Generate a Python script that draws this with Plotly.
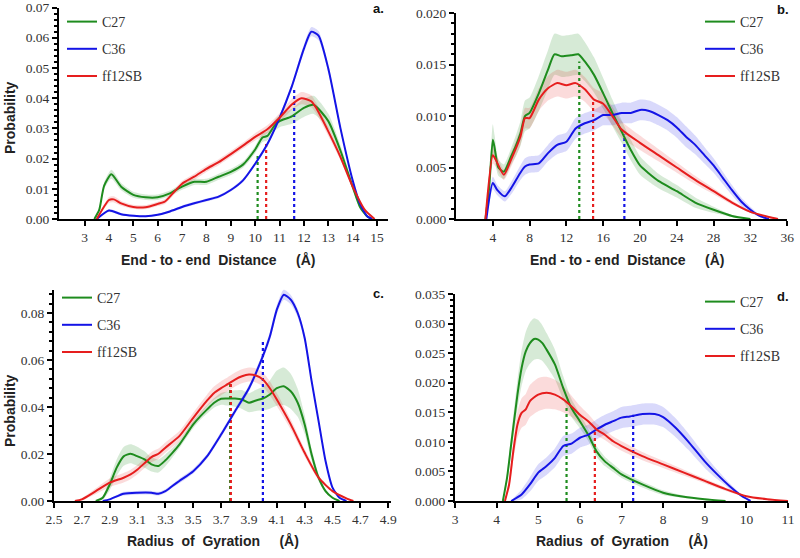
import plotly.graph_objects as go

# ---------------- DATA ----------------
# Panel a: end-to-end distance (short)
A_C27_x = [3.4, 3.6, 3.8, 4.1, 4.5, 5.0, 5.5, 6.0, 6.5, 7.0, 7.5, 8.0, 8.5, 9.0, 9.5, 10.0, 10.3, 10.5, 10.8, 11.0, 11.5, 12.0, 12.4, 13.0, 13.5, 14.0, 14.3, 14.6, 14.8]
A_C27_y = [0, 0.003, 0.011, 0.0148, 0.0107, 0.008, 0.0072, 0.0072, 0.0085, 0.0107, 0.0123, 0.0123, 0.014, 0.0156, 0.018, 0.023, 0.027, 0.0275, 0.031, 0.0324, 0.034, 0.0368, 0.0378, 0.0324, 0.0226, 0.0107, 0.004, 0.0008, 0]
A_C27_e = [0, 0.0005, 0.0012, 0.0015, 0.0012, 0.001, 0.0009, 0.0009, 0.0009, 0.001, 0.001, 0.001, 0.001, 0.001, 0.001, 0.0012, 0.0015, 0.0015, 0.0018, 0.002, 0.0025, 0.003, 0.003, 0.0025, 0.0018, 0.001, 0.0005, 0.0002, 0]
A_C36_x = [3.5, 4.0, 4.5, 5.0, 5.5, 6.0, 6.5, 7.0, 7.5, 8.0, 8.5, 9.0, 9.5, 10.0, 10.5, 11.0, 11.5, 12.0, 12.3, 12.6, 13.0, 13.5, 14.0, 14.3, 14.6, 14.8]
A_C36_y = [0, 0.0028, 0.0016, 0.0011, 0.0009, 0.0014, 0.0025, 0.004, 0.0052, 0.0063, 0.0074, 0.0096, 0.0128, 0.0183, 0.0248, 0.0335, 0.0438, 0.0564, 0.062, 0.0607, 0.0498, 0.030, 0.0128, 0.005, 0.0009, 0]
A_C36_e = [0, 0.0005, 0.0004, 0.0003, 0.0003, 0.0003, 0.0004, 0.0005, 0.0005, 0.0005, 0.0005, 0.0005, 0.0006, 0.0006, 0.0007, 0.0008, 0.001, 0.0013, 0.0015, 0.0015, 0.0012, 0.0009, 0.0006, 0.0004, 0.0002, 0]
A_FF_x = [3.5, 4.0, 4.2, 4.5, 5.0, 5.5, 6.0, 6.3, 6.5, 7.0, 7.5, 8.0, 8.5, 9.0, 9.5, 10.0, 10.5, 11.0, 11.5, 11.9, 12.3, 12.5, 13.0, 13.5, 14.0, 14.5, 14.9]
A_FF_y = [0, 0.0063, 0.0065, 0.0052, 0.004, 0.0039, 0.005, 0.0058, 0.0074, 0.0117, 0.014, 0.0166, 0.0188, 0.0215, 0.0243, 0.0272, 0.0297, 0.0335, 0.0379, 0.040, 0.039, 0.0368, 0.029, 0.0205, 0.0107, 0.003, 0]
A_FF_e = [0, 0.001, 0.001, 0.0008, 0.0007, 0.0007, 0.0007, 0.0008, 0.0008, 0.0009, 0.001, 0.001, 0.001, 0.001, 0.001, 0.0012, 0.0013, 0.0015, 0.0018, 0.002, 0.002, 0.0018, 0.0015, 0.001, 0.0007, 0.0003, 0]
# mean markers, order C27, C36, ff12SB
A_mean_x = [10.1, 11.6, 10.45]
A_mean_h = [0.0215, 0.0435, 0.025]

# Panel b: end-to-end distance (long)
B_C27_x = [3.2, 3.6, 4.0, 4.2, 4.6, 5.2, 6.0, 6.5, 7.0, 7.5, 8.0, 9.0, 10.0, 10.7, 11.5, 12.5, 13.3, 14.0, 15.0, 16.0, 17.0, 18.0, 19.0, 20.0, 21.0, 22.0, 24.0, 26.0, 28.0, 30.0, 32.0]
B_C27_y = [0, 0.003, 0.0077, 0.0069, 0.005, 0.0046, 0.0061, 0.0071, 0.0083, 0.010, 0.0103, 0.0122, 0.0145, 0.016, 0.0158, 0.0159, 0.016, 0.0153, 0.014, 0.0122, 0.0103, 0.0085, 0.0067, 0.0052, 0.0044, 0.0037, 0.0027, 0.0016, 0.0009, 0.0003, 0]
B_C27_e = [0, 0.0008, 0.0015, 0.0012, 0.0008, 0.0007, 0.0008, 0.001, 0.0012, 0.0015, 0.0015, 0.0017, 0.0019, 0.002, 0.002, 0.002, 0.002, 0.0019, 0.0017, 0.0015, 0.0013, 0.0011, 0.001, 0.0009, 0.0008, 0.0007, 0.0006, 0.0005, 0.0003, 0.0001, 0]
B_C36_x = [3.3, 4.0, 4.5, 5.3, 6.0, 7.0, 7.5, 8.0, 9.0, 10.0, 11.0, 12.0, 13.0, 14.0, 15.0, 16.0, 17.0, 18.0, 19.0, 20.0, 21.0, 22.0, 23.0, 24.0, 25.0, 26.0, 27.0, 28.0, 29.0, 30.0, 31.0, 32.0, 33.0, 34.0]
B_C36_y = [0, 0.0035, 0.0028, 0.0022, 0.003, 0.0045, 0.0051, 0.0053, 0.0054, 0.0064, 0.0072, 0.0075, 0.0088, 0.0093, 0.0096, 0.0101, 0.0101, 0.0103, 0.0103, 0.0106, 0.0105, 0.0101, 0.0096, 0.0089, 0.0080, 0.0072, 0.0062, 0.0052, 0.0040, 0.0028, 0.0017, 0.0009, 0.0003, 0]
B_C36_e = [0, 0.0006, 0.0005, 0.0005, 0.0006, 0.0007, 0.0008, 0.0008, 0.0008, 0.0008, 0.0009, 0.0009, 0.001, 0.001, 0.001, 0.001, 0.001, 0.001, 0.001, 0.001, 0.001, 0.001, 0.001, 0.001, 0.001, 0.0009, 0.0008, 0.0007, 0.0006, 0.0005, 0.0004, 0.0003, 0.0001, 0]
B_FF_x = [3.2, 4.0, 4.3, 5.2, 6.0, 7.0, 7.5, 8.0, 9.0, 10.0, 11.0, 12.0, 13.0, 14.0, 15.0, 16.0, 17.0, 18.0, 20.0, 22.0, 24.0, 26.0, 28.0, 30.0, 32.0, 34.0, 35.0]
B_FF_y = [0, 0.0062, 0.0058, 0.0043, 0.0058, 0.008, 0.0098, 0.0098, 0.0116, 0.0127, 0.0132, 0.013, 0.0132, 0.0126, 0.0116, 0.0112, 0.010, 0.0087, 0.0074, 0.0062, 0.0050, 0.0038, 0.0027, 0.0016, 0.0007, 0.0002, 0]
B_FF_e = [0, 0.0008, 0.0007, 0.0005, 0.0007, 0.0008, 0.001, 0.001, 0.0011, 0.0012, 0.0013, 0.0013, 0.0013, 0.0012, 0.0011, 0.001, 0.0009, 0.0008, 0.0007, 0.0006, 0.0005, 0.0004, 0.0003, 0.0002, 0.0001, 0, 0]
B_mean_x = [13.4, 18.3, 14.9]
B_mean_h = [0.0153, 0.0082, 0.0116]

# Panel c: radius of gyration (short)
C_C27_x = [2.8, 2.85, 2.9, 2.95, 3.0, 3.05, 3.1, 3.15, 3.2, 3.25, 3.3, 3.35, 3.4, 3.45, 3.5, 3.55, 3.6, 3.65, 3.7, 3.75, 3.8, 3.85, 3.9, 3.95, 4.0, 4.05, 4.1, 4.15, 4.2, 4.25, 4.3, 4.35, 4.4, 4.45, 4.5, 4.55]
C_C27_y = [0, 0.0014, 0.007, 0.0142, 0.019, 0.0201, 0.019, 0.0177, 0.0156, 0.0149, 0.0173, 0.0205, 0.024, 0.0283, 0.0326, 0.036, 0.039, 0.0418, 0.0435, 0.0436, 0.0436, 0.0432, 0.0418, 0.0428, 0.0436, 0.0453, 0.048, 0.0488, 0.0467, 0.0418, 0.0326, 0.0198, 0.0099, 0.0042, 0.0014, 0]
C_C27_e = [0, 0.0008, 0.0025, 0.0035, 0.004, 0.004, 0.004, 0.0035, 0.003, 0.0028, 0.0025, 0.002, 0.0015, 0.0015, 0.0015, 0.0015, 0.0018, 0.002, 0.0025, 0.003, 0.0035, 0.004, 0.004, 0.0045, 0.005, 0.006, 0.0075, 0.008, 0.0075, 0.006, 0.004, 0.0025, 0.0015, 0.0008, 0.0003, 0]
C_C36_x = [2.85, 2.9, 3.0, 3.1, 3.2, 3.25, 3.3, 3.35, 3.4, 3.5, 3.6, 3.7, 3.8, 3.9, 4.0, 4.05, 4.1, 4.15, 4.2, 4.25, 4.3, 4.35, 4.4, 4.45, 4.5, 4.55, 4.6]
C_C36_y = [0, 0.0007, 0.0031, 0.0035, 0.0035, 0.0031, 0.0042, 0.0064, 0.0085, 0.0127, 0.0191, 0.0283, 0.0382, 0.048, 0.0616, 0.070, 0.0814, 0.0878, 0.0857, 0.080, 0.0694, 0.051, 0.034, 0.017, 0.0057, 0.0014, 0]
C_C36_e = [0, 0.0003, 0.0008, 0.0008, 0.0008, 0.0008, 0.0008, 0.0008, 0.001, 0.001, 0.001, 0.0012, 0.0012, 0.0014, 0.0016, 0.0018, 0.002, 0.0022, 0.002, 0.0018, 0.0016, 0.0012, 0.001, 0.0008, 0.0005, 0.0002, 0]
C_FF_x = [2.65, 2.7, 2.8, 2.9, 3.0, 3.05, 3.1, 3.2, 3.25, 3.3, 3.4, 3.5, 3.6, 3.65, 3.7, 3.75, 3.8, 3.85, 3.9, 3.95, 4.0, 4.05, 4.1, 4.2, 4.3, 4.4, 4.5, 4.6, 4.65]
C_FF_y = [0, 0.0007, 0.0042, 0.0078, 0.0099, 0.0113, 0.0134, 0.0187, 0.0201, 0.0227, 0.0276, 0.0354, 0.0428, 0.046, 0.048, 0.0498, 0.0517, 0.0531, 0.0538, 0.0534, 0.0517, 0.048, 0.0432, 0.0326, 0.0205, 0.0099, 0.0042, 0.0011, 0]
C_FF_e = [0, 0.0005, 0.0012, 0.0018, 0.002, 0.002, 0.002, 0.0022, 0.0022, 0.0022, 0.0022, 0.0022, 0.0025, 0.0028, 0.003, 0.003, 0.003, 0.003, 0.003, 0.003, 0.003, 0.003, 0.0028, 0.0022, 0.0016, 0.001, 0.0005, 0.0002, 0]
C_mean_x = [3.765, 4.0, 3.77]
C_mean_h = [0.0498, 0.068, 0.0498]

# Panel d: radius of gyration (long)
D_C27_x = [4.15, 4.25, 4.35, 4.5, 4.6, 4.7, 4.8, 4.9, 5.0, 5.1, 5.2, 5.4, 5.6, 5.8, 6.0, 6.2, 6.4, 6.6, 6.8, 7.0, 7.5, 8.0, 8.5, 9.0, 9.5]
D_C27_y = [0, 0.0039, 0.0096, 0.018, 0.0225, 0.0253, 0.0267, 0.0274, 0.0273, 0.0267, 0.0256, 0.0231, 0.0191, 0.0157, 0.0135, 0.0112, 0.0084, 0.0067, 0.0056, 0.0045, 0.0028, 0.0014, 0.0007, 0.0003, 0]
D_C27_e = [0, 0.0008, 0.0015, 0.0025, 0.003, 0.0033, 0.0035, 0.0035, 0.0033, 0.003, 0.0028, 0.0025, 0.002, 0.0015, 0.0012, 0.001, 0.0009, 0.0008, 0.0007, 0.0006, 0.0005, 0.0004, 0.0002, 0.0001, 0]
D_C36_x = [4.35, 4.6, 4.8, 5.0, 5.2, 5.4, 5.6, 5.8, 6.0, 6.2, 6.4, 6.6, 6.8, 7.0, 7.2, 7.5, 7.8, 8.0, 8.3, 8.6, 9.0, 9.3, 9.6, 9.9, 10.1]
D_C36_y = [0, 0.0011, 0.0028, 0.0048, 0.0059, 0.0073, 0.0093, 0.0097, 0.0107, 0.0112, 0.0121, 0.0129, 0.0135, 0.0141, 0.0143, 0.0147, 0.0147, 0.0142, 0.0124, 0.0101, 0.0067, 0.0045, 0.0025, 0.0008, 0]
D_C36_e = [0, 0.0008, 0.0012, 0.0014, 0.0015, 0.0016, 0.0017, 0.0017, 0.0017, 0.0017, 0.0017, 0.0017, 0.0017, 0.0018, 0.0018, 0.0018, 0.0018, 0.0017, 0.0016, 0.0014, 0.0011, 0.0008, 0.0005, 0.0002, 0]
D_FF_x = [4.2, 4.3, 4.4, 4.5, 4.6, 4.7, 4.8, 5.0, 5.2, 5.4, 5.6, 5.8, 6.0, 6.2, 6.4, 6.6, 6.8, 7.0, 7.5, 8.0, 8.5, 9.0, 9.5, 10.0, 10.5, 11.0]
D_FF_y = [0, 0.0028, 0.0084, 0.0129, 0.0149, 0.0155, 0.0169, 0.018, 0.0183, 0.018, 0.0172, 0.016, 0.0146, 0.0135, 0.0121, 0.0112, 0.0101, 0.0093, 0.0076, 0.0062, 0.0048, 0.0034, 0.002, 0.0008, 0.0003, 0]
D_FF_e = [0, 0.0008, 0.0015, 0.0022, 0.0025, 0.0026, 0.0027, 0.0028, 0.0027, 0.0025, 0.0022, 0.0018, 0.0015, 0.0012, 0.001, 0.0009, 0.0008, 0.0008, 0.0007, 0.0006, 0.0005, 0.0004, 0.0003, 0.0001, 0, 0]
D_mean_x = [5.68, 7.28, 6.36]
D_mean_h = [0.016, 0.0146, 0.0118]

SERIES = ["C27", "C36", "ff12SB"]
COLORS = ["#1e8c1e", "#1414e6", "#e61e1e"]
BANDS = ["rgba(30,140,30,0.18)", "rgba(20,20,230,0.16)", "rgba(230,30,30,0.16)"]

X_TITLES = ["End - to - end\u00a0 Distance\u00a0\u00a0\u00a0\u00a0 (Å)", "End - to - end\u00a0 Distance\u00a0\u00a0\u00a0\u00a0 (Å)",
            "Radius\u00a0 of\u00a0 Gyration\u00a0\u00a0\u00a0\u00a0 (Å)", "Radius\u00a0 of\u00a0 Gyration\u00a0\u00a0\u00a0\u00a0 (Å)"]
PANEL_LABELS = ["a.", "b.", "c.", "d."]

# ---------------- FIGURE ----------------
panels = [
    dict(data=[(A_C27_x, A_C27_y, A_C27_e), (A_C36_x, A_C36_y, A_C36_e), (A_FF_x, A_FF_y, A_FF_e)],
         mx=A_mean_x, mh=A_mean_h),
    dict(data=[(B_C27_x, B_C27_y, B_C27_e), (B_C36_x, B_C36_y, B_C36_e), (B_FF_x, B_FF_y, B_FF_e)],
         mx=B_mean_x, mh=B_mean_h),
    dict(data=[(C_C27_x, C_C27_y, C_C27_e), (C_C36_x, C_C36_y, C_C36_e), (C_FF_x, C_FF_y, C_FF_e)],
         mx=C_mean_x, mh=C_mean_h),
    dict(data=[(D_C27_x, D_C27_y, D_C27_e), (D_C36_x, D_C36_y, D_C36_e), (D_FF_x, D_FF_y, D_FF_e)],
         mx=D_mean_x, mh=D_mean_h),
]

fig = go.Figure()
legends = ["legend", "legend2", "legend3", "legend4"]

for p, panel in enumerate(panels):
    xa = "x" if p == 0 else f"x{p+1}"
    ya = "y" if p == 0 else f"y{p+1}"
    for s, (x, y, e) in enumerate(panel["data"]):
        up = [yy + ee for yy, ee in zip(y, e)]
        lo = [max(0.0, yy - ee) for yy, ee in zip(y, e)]
        fig.add_trace(go.Scatter(x=list(x) + list(x)[::-1], y=up + lo[::-1], fill="toself",
                                 fillcolor=BANDS[s], line=dict(width=0, shape="spline", smoothing=0.6),
                                 mode="lines", showlegend=False, hoverinfo="skip", xaxis=xa, yaxis=ya))
    for s in range(3):
        fig.add_trace(go.Scatter(x=[panel["mx"][s]] * 2, y=[0, panel["mh"][s]], mode="lines",
                                 line=dict(color=COLORS[s], width=2.2, dash="dot"),
                                 showlegend=False, hoverinfo="skip", xaxis=xa, yaxis=ya))
    for s, (x, y, e) in enumerate(panel["data"]):
        fig.add_trace(go.Scatter(x=x, y=y, mode="lines", name=SERIES[s],
                                 line=dict(color=COLORS[s], width=2, shape="spline", smoothing=0.6),
                                 legend=legends[p], legendgroup=f"{p}-{s}",
                                 xaxis=xa, yaxis=ya))

TICKFONT = dict(family="Liberation Serif", size=13.5, color="#333")
axis_common = dict(showline=True, linecolor="black", linewidth=2, ticks="outside", ticklen=5,
                   tickwidth=2, tickcolor="black", showgrid=False, zeroline=False, tickfont=TICKFONT,
                   automargin=False, ticklabeloverflow="allow")
minor_y = dict(ticks="outside", ticklen=3, tickcolor="black", tickwidth=1.5)

fig.update_layout(
    width=800, height=558, margin=dict(l=0, r=0, t=0, b=0, autoexpand=False),
    paper_bgcolor="white", plot_bgcolor="white",
    xaxis=dict(domain=[0.07375, 0.485], range=[1.95, 15.45], tickvals=list(range(3, 16)), anchor="y", **axis_common),
    yaxis=dict(domain=[0.6075, 1 - 7.5 / 558], range=[0, 0.07001], tickvals=[0, 0.01, 0.02, 0.03, 0.04, 0.05, 0.06, 0.07],
               tickformat=".2f", anchor="x", minor=dict(dtick=0.002, **minor_y), **axis_common),
    xaxis2=dict(domain=[0.570, 0.984], range=[0, 36], tickvals=list(range(4, 37, 4)), anchor="y2", **axis_common),
    yaxis2=dict(domain=[0.6075, 0.9767], range=[0, 0.02001], tickvals=[0, 0.005, 0.01, 0.015, 0.02],
                tickformat=".3f", anchor="x2", minor=dict(dtick=0.001, **minor_y), **axis_common),
    xaxis3=dict(domain=[0.0675, 0.48875], range=[2.5, 4.92], tickvals=[2.5, 2.7, 2.9, 3.1, 3.3, 3.5, 3.7, 3.9, 4.1, 4.3, 4.5, 4.7, 4.9],
                tickformat=".1f", anchor="y3", **axis_common),
    yaxis3=dict(domain=[0.10215, 0.48118], range=[0, 0.09], tickvals=[0, 0.02, 0.04, 0.06, 0.08], tickformat=".2f", anchor="x3",
                minor=dict(dtick=0.004, **minor_y), **axis_common),
    xaxis4=dict(domain=[0.56875, 0.985], range=[3, 11], dtick=1, anchor="y4", **axis_common),
    yaxis4=dict(domain=[0.10215, 0.4731], range=[0, 0.03501], tickvals=[0, 0.005, 0.01, 0.015, 0.02, 0.025, 0.03, 0.035],
                tickformat=".3f", anchor="x4", minor=dict(dtick=0.001, **minor_y), **axis_common),
    showlegend=True,
)

LEGFONT = dict(family="Liberation Serif", size=14, color="#333")
leg_pos = [(62 / 800, 1 - 6 / 558), (700 / 800, 1 - 6 / 558), (57 / 800, 1 - 282 / 558), (700 / 800, 1 - 286 / 558)]
for i, (lx, ly) in enumerate(leg_pos):
    fig.update_layout(**{legends[i]: dict(x=lx, y=ly, xanchor="left", yanchor="top", font=LEGFONT,
                                          bgcolor="rgba(0,0,0,0)", tracegroupgap=6, itemwidth=30)})

TITLEFONT = dict(family="Liberation Sans", size=14, color="#222")
title_pos = [(218, 260), (627, 260), (213, 541), (622, 541)]
for (cx, cy), t in zip(title_pos, X_TITLES):
    fig.add_annotation(x=cx / 800, y=1 - cy / 558, xref="paper", yref="paper", text=f"<b>{t}</b>",
                       showarrow=False, font=TITLEFONT, xanchor="center", yanchor="middle")
for cy in (118, 411):
    fig.add_annotation(x=10 / 800, y=1 - cy / 558, xref="paper", yref="paper", text="<b>Probability</b>",
                       textangle=-90, showarrow=False, font=TITLEFONT, xanchor="center", yanchor="middle")
label_pos = [(378, 9), (783, 10), (378, 293), (783, 296)]
for (cx, cy), t in zip(label_pos, PANEL_LABELS):
    fig.add_annotation(x=cx / 800, y=1 - cy / 558, xref="paper", yref="paper", text=f"<b>{t}</b>",
                       showarrow=False, font=dict(family="Liberation Sans", size=13, color="#111"),
                       xanchor="center", yanchor="middle")

fig.write_html("out.html", config={"displayModeBar": False},
               post_script="document.body.style.margin='0';document.body.style.padding='0';")
